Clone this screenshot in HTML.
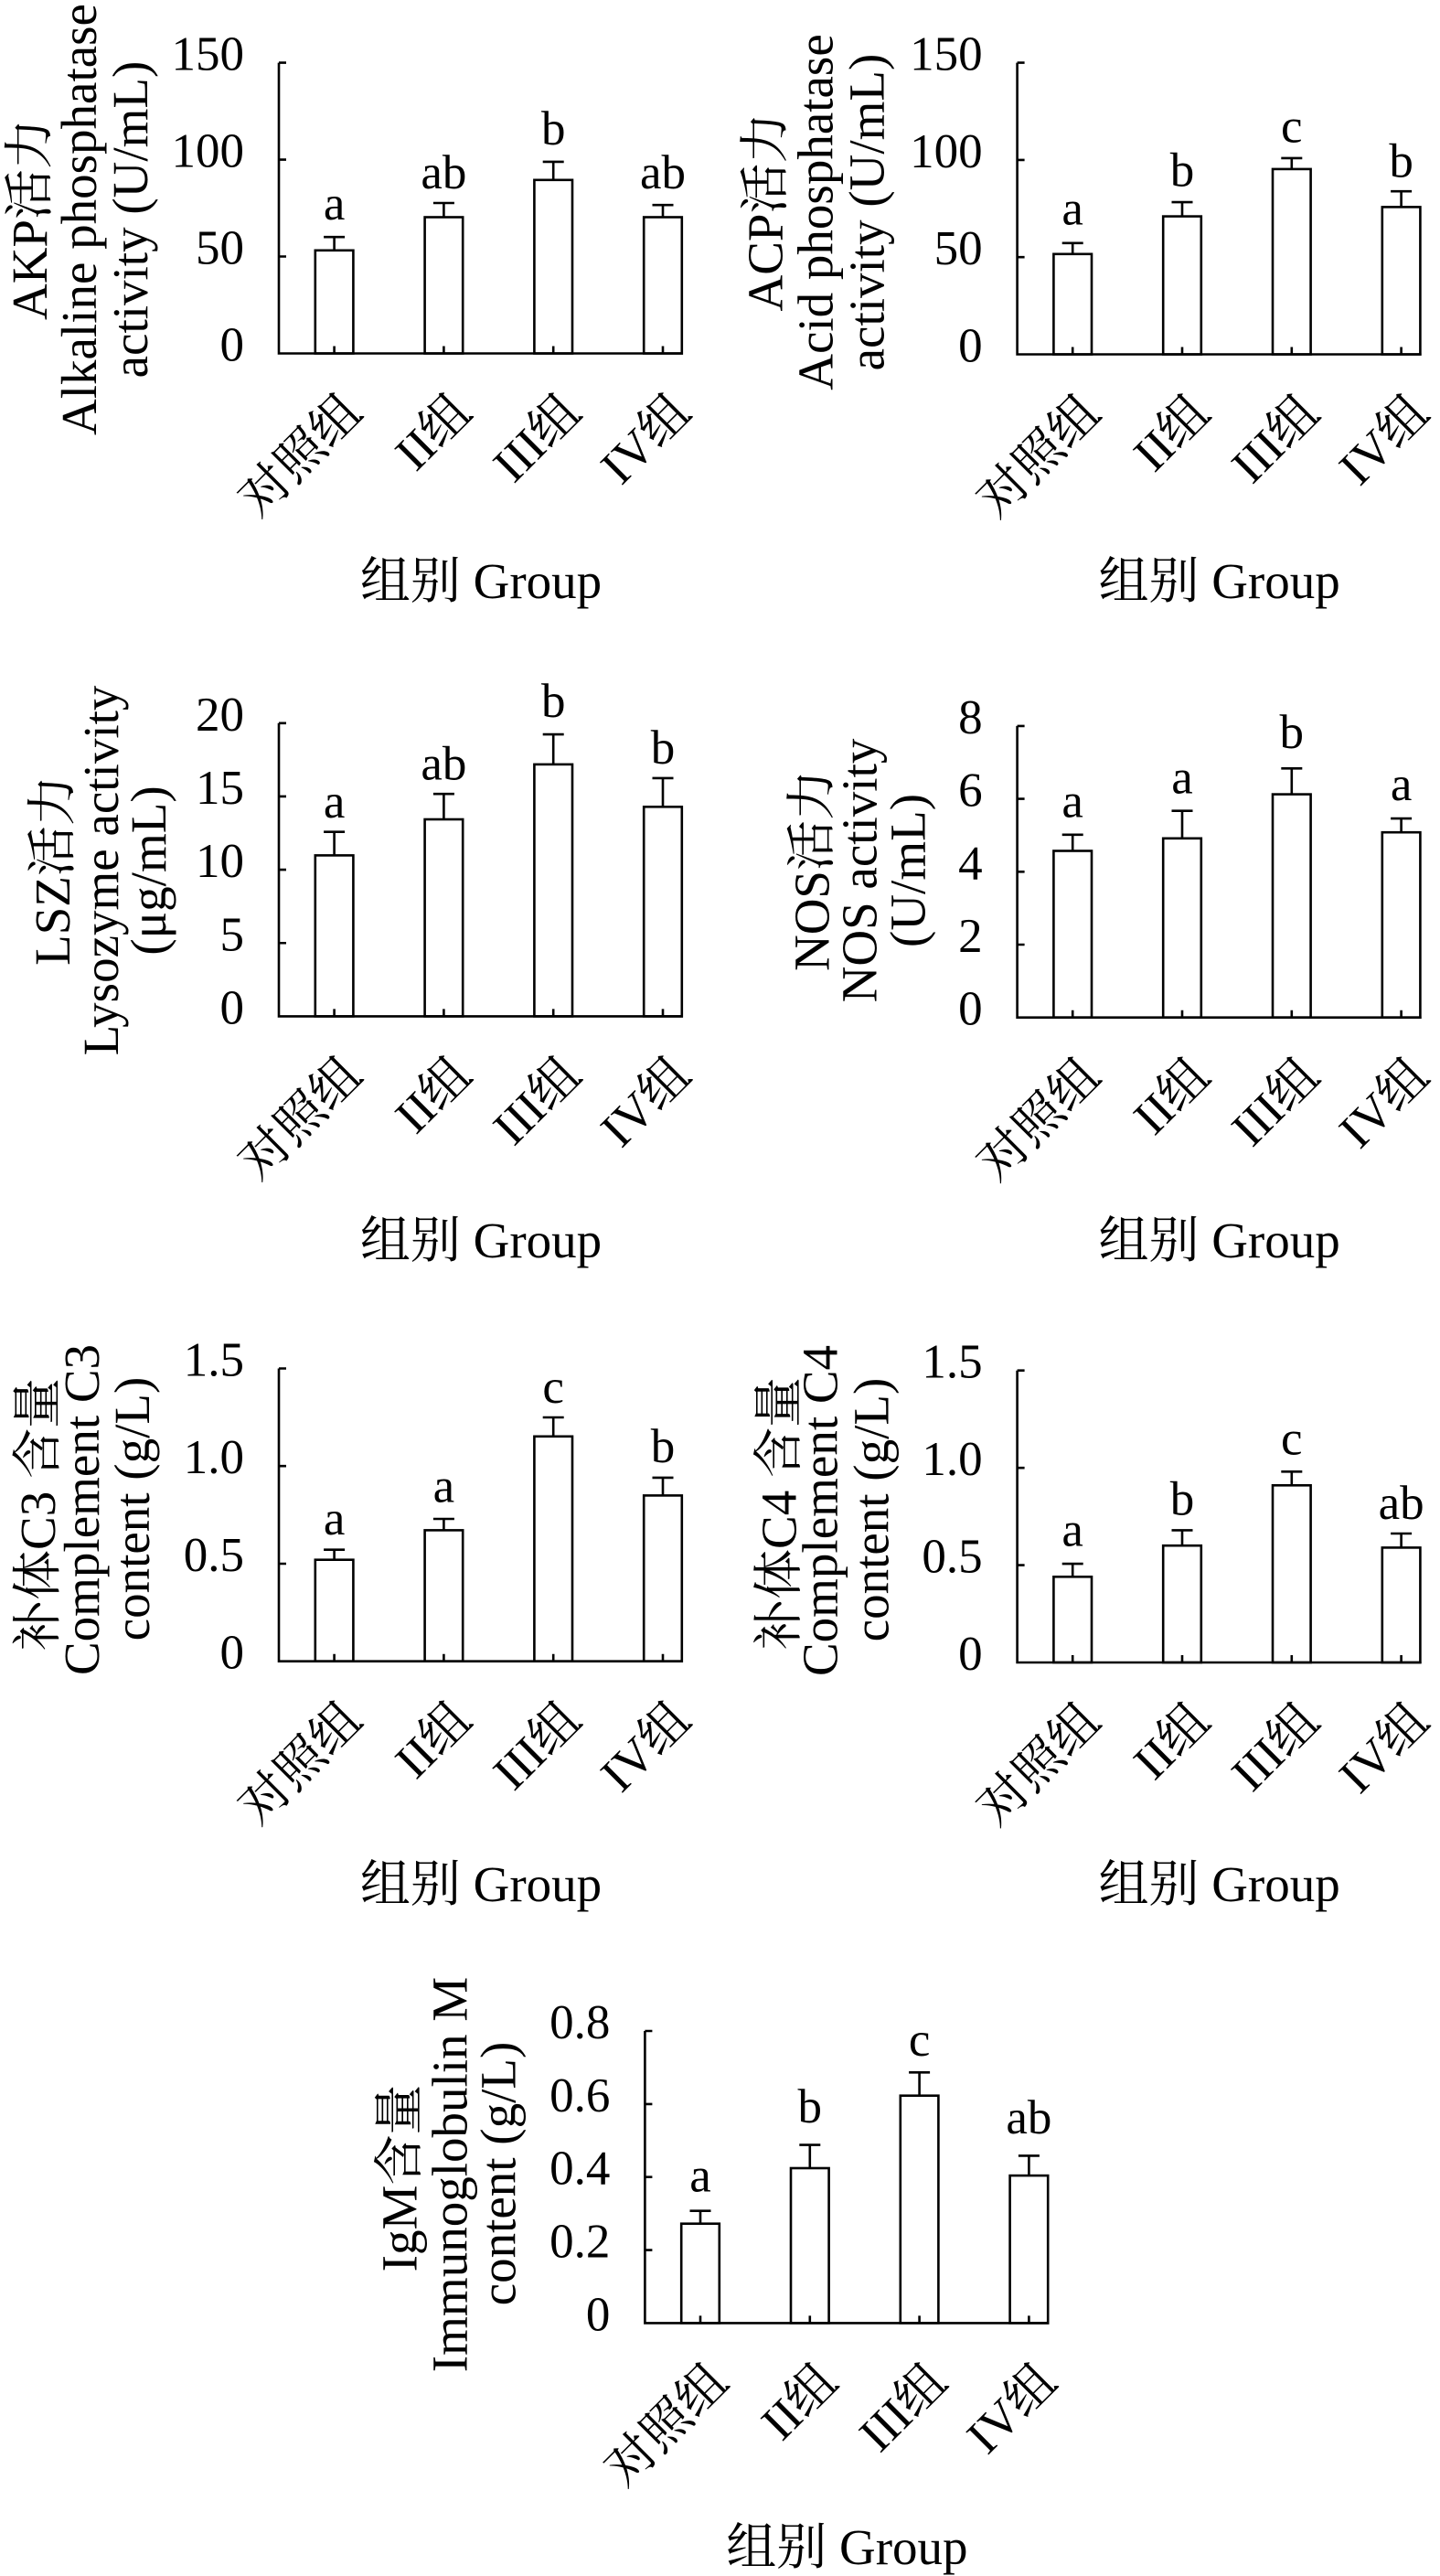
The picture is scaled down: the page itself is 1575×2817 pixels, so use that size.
<!DOCTYPE html>
<html><head><meta charset="utf-8"><style>
html,body{margin:0;padding:0;background:#fff;}
svg{display:block;}
text{font-family:"Liberation Serif","Noto Serif CJK SC",serif;fill:#000;}
.tk{font-size:53px;text-anchor:end;}
.lt{font-size:53px;text-anchor:middle;}
.xl{font-size:54px;text-anchor:end;}
.gt{font-size:55px;text-anchor:middle;}
.yl{font-size:55px;text-anchor:middle;}
.ax{fill:none;stroke:#000;stroke-width:2.6;}
.br{fill:#fff;stroke:#000;stroke-width:2.6;}
</style></head><body>
<svg width="1575" height="2817" viewBox="0 0 1575 2817" xmlns="http://www.w3.org/2000/svg">
<rect width="1575" height="2817" fill="#fff"/>

<!-- Panel 1 AKP -->
<g transform="translate(305,0)">
<rect class="br" x="39.8" y="273.8" width="41.6" height="112.7"/>
<rect class="br" x="159.6" y="237.5" width="41.6" height="149"/>
<rect class="br" x="279.4" y="196.8" width="41.6" height="189.7"/>
<rect class="br" x="399.2" y="237.5" width="41.6" height="149"/>
<path class="ax" d="M60.6,273.8V259.2M49.1,259.2h23 M180.4,237.5V222M168.9,222h23 M300.2,196.8V176.9M288.7,176.9h23 M420,237.5V224.2M408.5,224.2h23"/>
<path class="ax" d="M0,68.6V386.5H442 M0,68.6h8 M0,174.6h8 M0,280.5h8 M60.6,386.5v-8 M180.4,386.5v-8 M300.2,386.5v-8 M420,386.5v-8"/>
<text class="tk" x="-38" y="76.6">150</text><text class="tk" x="-38" y="182.6">100</text><text class="tk" x="-38" y="288.5">50</text><text class="tk" x="-38" y="394.5">0</text>
<text class="lt" x="60.6" y="240">a</text><text class="lt" x="180.4" y="206">ab</text><text class="lt" x="300.2" y="158">b</text><text class="lt" x="420" y="206">ab</text>
<text class="xl" transform="translate(93.6,453.5) rotate(-45)">对照组</text>
<text class="xl" transform="translate(213.4,453.5) rotate(-45)">II组</text>
<text class="xl" transform="translate(333.2,453.5) rotate(-45)">III组</text>
<text class="xl" transform="translate(453,453.5) rotate(-45)">IV组</text>
<text class="gt" x="221" y="654">组别 Group</text>
<text class="yl" transform="translate(-254,240) rotate(-90)">AKP活力</text>
<text class="yl" transform="translate(-200,240) rotate(-90)">Alkaline phosphatase</text>
<text class="yl" transform="translate(-144,240) rotate(-90)">activity (U/mL)</text>
</g>

<!-- Panel 2 ACP -->
<g transform="translate(1112.6,0)">
<rect class="br" x="39.8" y="277.8" width="41.6" height="109.7"/>
<rect class="br" x="159.6" y="236.6" width="41.6" height="150.9"/>
<rect class="br" x="279.4" y="184.9" width="41.6" height="202.6"/>
<rect class="br" x="399.2" y="226.4" width="41.6" height="161.1"/>
<path class="ax" d="M60.6,277.8V265.8M49.1,265.8h23 M180.4,236.6V221.1M168.9,221.1h23 M300.2,184.9V172.9M288.7,172.9h23 M420,226.4V209.2M408.5,209.2h23"/>
<path class="ax" d="M0,68.6V387.5H442 M0,68.6h8 M0,174.9h8 M0,281.2h8 M60.6,387.5v-8 M180.4,387.5v-8 M300.2,387.5v-8 M420,387.5v-8"/>
<text class="tk" x="-38" y="76.6">150</text><text class="tk" x="-38" y="182.9">100</text><text class="tk" x="-38" y="289.2">50</text><text class="tk" x="-38" y="395.5">0</text>
<text class="lt" x="60.6" y="245.5">a</text><text class="lt" x="180.4" y="203.5">b</text><text class="lt" x="300.2" y="155.7">c</text><text class="lt" x="420" y="193.3">b</text>
<text class="xl" transform="translate(93.6,454.5) rotate(-45)">对照组</text>
<text class="xl" transform="translate(213.4,454.5) rotate(-45)">II组</text>
<text class="xl" transform="translate(333.2,454.5) rotate(-45)">III组</text>
<text class="xl" transform="translate(453,454.5) rotate(-45)">IV组</text>
<text class="gt" x="221" y="654">组别 Group</text>
<text class="yl" transform="translate(-257,232) rotate(-90)">ACP活力</text>
<text class="yl" transform="translate(-202,232) rotate(-90)">Acid phosphatase</text>
<text class="yl" transform="translate(-146,232) rotate(-90)">activity (U/mL)</text>
</g>

<!-- Panel 3 LSZ -->
<g transform="translate(305,0)">
<rect class="br" x="39.8" y="935.4" width="41.6" height="176"/>
<rect class="br" x="159.6" y="896" width="41.6" height="215.4"/>
<rect class="br" x="279.4" y="835.9" width="41.6" height="275.5"/>
<rect class="br" x="399.2" y="882.3" width="41.6" height="229.1"/>
<path class="ax" d="M60.6,935.4V909.7M49.1,909.7h23 M180.4,896V868.2M168.9,868.2h23 M300.2,835.9V803.1M288.7,803.1h23 M420,882.3V850.9M408.5,850.9h23"/>
<path class="ax" d="M0,790.8V1111.4H442 M0,790.8h8 M0,870.95h8 M0,951.1h8 M0,1031.25h8 M60.6,1111.4v-8 M180.4,1111.4v-8 M300.2,1111.4v-8 M420,1111.4v-8"/>
<text class="tk" x="-38" y="798.8">20</text><text class="tk" x="-38" y="879">15</text><text class="tk" x="-38" y="959.1">10</text><text class="tk" x="-38" y="1039.3">5</text><text class="tk" x="-38" y="1119.4">0</text>
<text class="lt" x="60.6" y="893.8">a</text><text class="lt" x="180.4" y="852.7">ab</text><text class="lt" x="300.2" y="784.1">b</text><text class="lt" x="420" y="835">b</text>
<text class="xl" transform="translate(93.6,1178.4) rotate(-45)">对照组</text>
<text class="xl" transform="translate(213.4,1178.4) rotate(-45)">II组</text>
<text class="xl" transform="translate(333.2,1178.4) rotate(-45)">III组</text>
<text class="xl" transform="translate(453,1178.4) rotate(-45)">IV组</text>
<text class="gt" x="221" y="1375">组别 Group</text>
<text class="yl" transform="translate(-229,952) rotate(-90)">LSZ活力</text>
<text class="yl" transform="translate(-176,952) rotate(-90)">Lysozyme activity</text>
<text class="yl" transform="translate(-124,952) rotate(-90)">(μg/mL)</text>
</g>

<!-- Panel 4 NOS -->
<g transform="translate(1112.6,0)">
<rect class="br" x="39.8" y="930.5" width="41.6" height="182.2"/>
<rect class="br" x="159.6" y="916.8" width="41.6" height="195.9"/>
<rect class="br" x="279.4" y="868.6" width="41.6" height="244.1"/>
<rect class="br" x="399.2" y="910.2" width="41.6" height="202.5"/>
<path class="ax" d="M60.6,930.5V912.8M49.1,912.8h23 M180.4,916.8V886.7M168.9,886.7h23 M300.2,868.6V840.3M288.7,840.3h23 M420,910.2V895.1M408.5,895.1h23"/>
<path class="ax" d="M0,793.9V1112.7H442 M0,793.9h8 M0,873.6h8 M0,953.3h8 M0,1033h8 M60.6,1112.7v-8 M180.4,1112.7v-8 M300.2,1112.7v-8 M420,1112.7v-8"/>
<text class="tk" x="-38" y="801.9">8</text><text class="tk" x="-38" y="881.6">6</text><text class="tk" x="-38" y="961.3">4</text><text class="tk" x="-38" y="1041">2</text><text class="tk" x="-38" y="1120.7">0</text>
<text class="lt" x="60.6" y="893.4">a</text><text class="lt" x="180.4" y="867.3">a</text><text class="lt" x="300.2" y="818.2">b</text><text class="lt" x="420" y="874.8">a</text>
<text class="xl" transform="translate(93.6,1179.7) rotate(-45)">对照组</text>
<text class="xl" transform="translate(213.4,1179.7) rotate(-45)">II组</text>
<text class="xl" transform="translate(333.2,1179.7) rotate(-45)">III组</text>
<text class="xl" transform="translate(453,1179.7) rotate(-45)">IV组</text>
<text class="gt" x="221" y="1375">组别 Group</text>
<text class="yl" transform="translate(-206,952) rotate(-90)">NOS活力</text>
<text class="yl" transform="translate(-154,952) rotate(-90)">NOS activity</text>
<text class="yl" transform="translate(-101,952) rotate(-90)">(U/mL)</text>
</g>

<!-- Panel 5 C3 -->
<g transform="translate(305,0)">
<rect class="br" x="39.8" y="1705.7" width="41.6" height="111"/>
<rect class="br" x="159.6" y="1673.4" width="41.6" height="143.3"/>
<rect class="br" x="279.4" y="1570.8" width="41.6" height="245.9"/>
<rect class="br" x="399.2" y="1635.4" width="41.6" height="181.3"/>
<path class="ax" d="M60.6,1705.7V1694.7M49.1,1694.7h23 M180.4,1673.4V1661M168.9,1661h23 M300.2,1570.8V1550M288.7,1550h23 M420,1635.4V1615.9M408.5,1615.9h23"/>
<path class="ax" d="M0,1496.5V1816.7H442 M0,1496.5h8 M0,1603.2h8 M0,1710h8 M60.6,1816.7v-8 M180.4,1816.7v-8 M300.2,1816.7v-8 M420,1816.7v-8"/>
<text class="tk" x="-38" y="1504.5">1.5</text><text class="tk" x="-38" y="1611.2">1.0</text><text class="tk" x="-38" y="1718">0.5</text><text class="tk" x="-38" y="1824.7">0</text>
<text class="lt" x="60.6" y="1677.9">a</text><text class="lt" x="180.4" y="1642.5">a</text><text class="lt" x="300.2" y="1534.1">c</text><text class="lt" x="420" y="1599.1">b</text>
<text class="xl" transform="translate(93.6,1883.7) rotate(-45)">对照组</text>
<text class="xl" transform="translate(213.4,1883.7) rotate(-45)">II组</text>
<text class="xl" transform="translate(333.2,1883.7) rotate(-45)">III组</text>
<text class="xl" transform="translate(453,1883.7) rotate(-45)">IV组</text>
<text class="gt" x="221" y="2079">组别 Group</text>
<text class="yl" transform="translate(-245,1656) rotate(-90)">补体C3 含量</text>
<text class="yl" transform="translate(-197,1651) rotate(-90)">Complement C3</text>
<text class="yl" transform="translate(-142,1650) rotate(-90)">content (g/L)</text>
</g>

<!-- Panel 6 C4 -->
<g transform="translate(1112.6,0)">
<rect class="br" x="39.8" y="1724.3" width="41.6" height="93.7"/>
<rect class="br" x="159.6" y="1690.2" width="41.6" height="127.8"/>
<rect class="br" x="279.4" y="1624.3" width="41.6" height="193.7"/>
<rect class="br" x="399.2" y="1692.4" width="41.6" height="125.6"/>
<path class="ax" d="M60.6,1724.3V1710.1M49.1,1710.1h23 M180.4,1690.2V1673.4M168.9,1673.4h23 M300.2,1624.3V1609.3M288.7,1609.3h23 M420,1692.4V1677M408.5,1677h23"/>
<path class="ax" d="M0,1498.7V1818H442 M0,1498.7h8 M0,1605.2h8 M0,1711.6h8 M60.6,1818v-8 M180.4,1818v-8 M300.2,1818v-8 M420,1818v-8"/>
<text class="tk" x="-38" y="1506.7">1.5</text><text class="tk" x="-38" y="1613.2">1.0</text><text class="tk" x="-38" y="1719.6">0.5</text><text class="tk" x="-38" y="1826">0</text>
<text class="lt" x="60.6" y="1690.7">a</text><text class="lt" x="180.4" y="1656.6">b</text><text class="lt" x="300.2" y="1590.3">c</text><text class="lt" x="420" y="1661">ab</text>
<text class="xl" transform="translate(93.6,1885) rotate(-45)">对照组</text>
<text class="xl" transform="translate(213.4,1885) rotate(-45)">II组</text>
<text class="xl" transform="translate(333.2,1885) rotate(-45)">III组</text>
<text class="xl" transform="translate(453,1885) rotate(-45)">IV组</text>
<text class="gt" x="221" y="2079">组别 Group</text>
<text class="yl" transform="translate(-242,1655) rotate(-90)">补体C4 含量</text>
<text class="yl" transform="translate(-197,1652) rotate(-90)">Complement C4</text>
<text class="yl" transform="translate(-141,1651) rotate(-90)">content (g/L)</text>
</g>

<!-- Panel 7 IgM -->
<g transform="translate(705.4,0)">
<rect class="br" x="39.8" y="2431.7" width="41.6" height="108.7"/>
<rect class="br" x="159.6" y="2371" width="41.6" height="169.4"/>
<rect class="br" x="279.4" y="2291.7" width="41.6" height="248.7"/>
<rect class="br" x="399.2" y="2379.1" width="41.6" height="161.3"/>
<path class="ax" d="M60.6,2431.7V2417.7M49.1,2417.7h23 M180.4,2371V2345.6M168.9,2345.6h23 M300.2,2291.7V2266.3M288.7,2266.3h23 M420,2379.1V2357.4M408.5,2357.4h23"/>
<path class="ax" d="M0,2221V2540.4H442 M0,2221h8 M0,2300.9h8 M0,2380.7h8 M0,2460.6h8 M60.6,2540.4v-8 M180.4,2540.4v-8 M300.2,2540.4v-8 M420,2540.4v-8"/>
<text class="tk" x="-38" y="2229">0.8</text><text class="tk" x="-38" y="2308.9">0.6</text><text class="tk" x="-38" y="2388.7">0.4</text><text class="tk" x="-38" y="2468.6">0.2</text><text class="tk" x="-38" y="2548.4">0</text>
<text class="lt" x="60.6" y="2396.4">a</text><text class="lt" x="180.4" y="2321.1">b</text><text class="lt" x="300.2" y="2248.2">c</text><text class="lt" x="420" y="2332.9">ab</text>
<text class="xl" transform="translate(93.6,2607.4) rotate(-45)">对照组</text>
<text class="xl" transform="translate(213.4,2607.4) rotate(-45)">II组</text>
<text class="xl" transform="translate(333.2,2607.4) rotate(-45)">III组</text>
<text class="xl" transform="translate(453,2607.4) rotate(-45)">IV组</text>
<text class="gt" x="221" y="2804">组别 Group</text>
<text class="yl" transform="translate(-250,2382) rotate(-90)">IgM含量</text>
<text class="yl" transform="translate(-195,2378) rotate(-90)">Immunoglobulin M</text>
<text class="yl" transform="translate(-142,2377) rotate(-90)">content (g/L)</text>
</g>
</svg>
</body></html>
